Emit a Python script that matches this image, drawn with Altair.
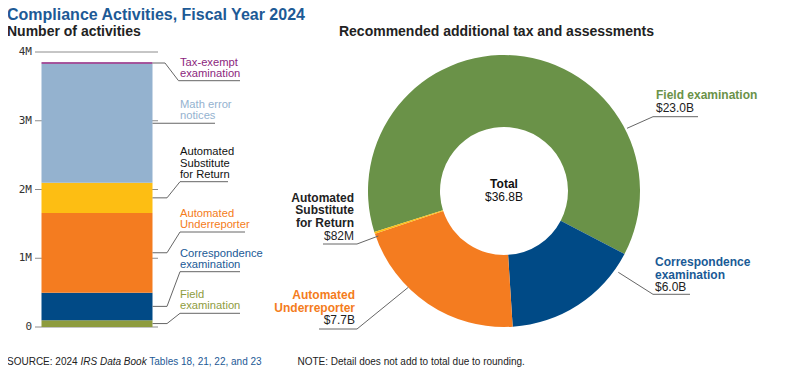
import math
import altair as alt
import pandas as pd

# ---------------- data ----------------
act_categories = ["Field examination", "Correspondence examination", "Automated Underreporter",
                  "Automated Substitute for Return", "Math error notices", "Tax-exempt examination"]
act_counts = [100_000, 400_000, 1_160_000, 437_000, 1_733_000, 20_000]
act_label_lines = [["Field", "examination"], ["Correspondence", "examination"],
                   ["Automated", "Underreporter"], ["Automated", "Substitute", "for Return"],
                   ["Math error", "notices"], ["Tax-exempt", "examination"]]
axis_ticks = [0, 1_000_000, 2_000_000, 3_000_000, 4_000_000]
axis_tick_labels = ["0", "1M", "2M", "3M", "4M"]

tax_categories = ["Field examination", "Correspondence examination",
                  "Automated Underreporter", "Automated Substitute for Return"]
tax_billions = [23.0, 6.0, 7.7, 0.082]
tax_label_lines = [["Field examination"], ["Correspondence", "examination"],
                   ["Automated", "Underreporter"], ["Automated", "Substitute", "for Return"]]

title_text = "Compliance Activities, Fiscal Year 2024"
left_title = "Number of activities"
right_title = "Recommended additional tax and assessments"
source_parts = ["SOURCE: 2024", "IRS Data Book", "Tables 18, 21, 22, and 23"]
note_text = "NOTE: Detail does not add to total due to rounding."

# ---------------- styles ----------------
BAR_COLORS = ["#8E9C3E", "#014A86", "#F47C20", "#FDBE13", "#94B2CF", "#8C1F7D"]
BAR_LABEL_COLORS = ["#8E9C3E", "#1A5A96", "#F47C20", "#111111", "#94B2CF", "#8C1F7D"]
DONUT_COLORS = ["#6A9248", "#004A86", "#F47C20", "#FDBE13"]
DONUT_LABEL_COLORS = ["#6A9248", "#1A5A96", "#F47C20", "#222222"]
BLUE = "#1D5A96"
DARK = "#222222"
LEADER = "#666666"
FONT = "Liberation Sans"

# ---------------- layout (page pixels) ----------------
M = 8
W, H = 792, 360
def v(p):
    return p - M

Y0_PAGE = 327.0
PX_PER_UNIT = 68.75 / 1_000_000
def bar_y_page(val):
    return Y0_PAGE - val * PX_PER_UNIT

BAR_X0, BAR_X1 = 41.5, 152.5
GRID_X0, GRID_X1 = 35, 158
TICK_LABEL_X = 32

LEFT_LINE_Y = [313.3, 271.7, 232.0, 181.7, None, 80.7]
LEFT_STUB_X = [167, 167, 167, 167, None, 165]
LEFT_DIAG_X = [180, 180, 180, 180, None, 178.5]
LEFT_LINE_END = [240, 240, 245, 228, 215, 240]
LEFT_TEXT_X = 180
LEFT_LH = 11.2
LEFT_FS = 11.2

DONUT_CX, DONUT_CY = 504, 191
R_OUT, R_IN = 136, 64
START_DEG = 252.5

RIGHT_TEXT_X = [656, 655, 355, 354]
RIGHT_ALIGN = ["left", "left", "right", "right"]
RIGHT_FIRST_BASELINE = [99, 266, 299, 201.7]
RIGHT_LH = 12.6
RIGHT_LEADERS = [
    [(627, 128.3), (653, 116.7), (698, 116.7)],
    [(618.3, 272.3), (653, 294.3), (690, 294.3)],
    [(408.3, 287.3), (357, 329), (319, 329)],
    [(378.3, 236), (357, 244), (323, 244)],
]

FOOT_Y = 365
FOOT_X = [7, 80.5, 149.3, 297.5]

# ---------------- left panel: stacked bar ----------------
ysc = alt.Scale(domain=[0, 4_000_000], range=[v(bar_y_page(0)), v(bar_y_page(4_000_000))],
                nice=False, zero=False)

df_bar = pd.DataFrame({"category": act_categories, "count": act_counts,
                       "ord": list(range(len(act_categories)))})
df_ticks = pd.DataFrame({"tick": axis_ticks, "label": axis_tick_labels})

grid = alt.Chart(df_ticks).mark_rule(color="#8c8c8c", strokeWidth=1).encode(
    x=alt.value(v(GRID_X0)), x2=alt.value(v(GRID_X1)),
    y=alt.Y("tick:Q", scale=ysc, axis=None),
)
bar = alt.Chart(df_bar).transform_stack(
    stack="count", groupby=[], as_=["y0", "y1"], sort=[alt.SortField("ord", order="ascending")]
).mark_rect().encode(
    x=alt.value(v(BAR_X0)), x2=alt.value(v(BAR_X1)),
    y=alt.Y("y0:Q", scale=ysc, axis=None),
    y2="y1:Q",
    color=alt.Color("category:N", scale=alt.Scale(domain=act_categories, range=BAR_COLORS), legend=None),
)
tick_labels = alt.Chart(df_ticks).mark_text(
    align="right", baseline="middle", font="DejaVu Sans Mono", fontSize=11, color="#333333"
).encode(
    x=alt.value(v(TICK_LABEL_X)),
    y=alt.Y("tick:Q", scale=ysc, axis=None),
    text="label:N",
)
bar_panel = alt.layer(grid, bar, tick_labels)

# ---------------- annotations ----------------
cum = 0
mids = []
for c in act_counts:
    mids.append(bar_y_page(cum + c / 2))
    cum += c

leader_rows = []
left_text_rows = []
for i, cat in enumerate(act_categories):
    mid = mids[i]
    if LEFT_LINE_Y[i] is None:
        pts = [(BAR_X1, mid), (LEFT_LINE_END[i], mid)]
        line_y = mid
    else:
        line_y = LEFT_LINE_Y[i]
        pts = [(BAR_X1, mid), (LEFT_STUB_X[i], mid), (LEFT_DIAG_X[i], line_y), (LEFT_LINE_END[i], line_y)]
    for s, (px, py) in enumerate(pts):
        leader_rows.append({"id": f"L{i}", "seq": s, "x": v(px), "y": v(py)})
    lines = act_label_lines[i]
    last = line_y - 4.0
    for k, t in enumerate(lines):
        left_text_rows.append({"x": v(LEFT_TEXT_X), "y": v(last - (len(lines) - 1 - k) * LEFT_LH),
                               "text": t, "color": BAR_LABEL_COLORS[i]})

for i, pts in enumerate(RIGHT_LEADERS):
    for s, (px, py) in enumerate(pts):
        leader_rows.append({"id": f"R{i}", "seq": s, "x": v(px), "y": v(py)})

def fmt_money(b):
    return f"${b * 1000:.0f}M" if b < 1 else f"${b:.1f}B"

right_bold = {"left": [], "right": []}
right_value = {"left": [], "right": []}
for i, cat in enumerate(tax_categories):
    lines = tax_label_lines[i]
    b0 = RIGHT_FIRST_BASELINE[i]
    for k, t in enumerate(lines):
        right_bold[RIGHT_ALIGN[i]].append({"x": v(RIGHT_TEXT_X[i]), "y": v(b0 + k * RIGHT_LH),
                                           "text": t, "color": DONUT_LABEL_COLORS[i]})
    right_value[RIGHT_ALIGN[i]].append({"x": v(RIGHT_TEXT_X[i]), "y": v(b0 + len(lines) * RIGHT_LH),
                                        "text": fmt_money(tax_billions[i]), "color": DARK})

total = sum(tax_billions)

def text_layer(rows, **mark):
    df = pd.DataFrame(rows)
    return alt.Chart(df).mark_text(baseline="alphabetic", **mark).encode(
        x=alt.X("x:Q", scale=None, axis=None),
        y=alt.Y("y:Q", scale=None, axis=None),
        text="text:N",
        color=alt.Color("color:N", scale=None),
    )

leaders = alt.Chart(pd.DataFrame(leader_rows)).mark_line(color=LEADER, strokeWidth=1).encode(
    x=alt.X("x:Q", scale=None, axis=None),
    y=alt.Y("y:Q", scale=None, axis=None),
    detail="id:N",
    order="seq:Q",
)

layers = [
    leaders,
    text_layer([{"x": v(7), "y": v(20), "text": title_text, "color": BLUE}],
               align="left", font=FONT, fontSize=16, fontWeight="bold"),
    text_layer([{"x": v(7), "y": v(36), "text": left_title, "color": DARK}],
               align="left", font=FONT, fontSize=14, fontWeight="bold"),
    text_layer([{"x": v(496.5), "y": v(36), "text": right_title, "color": DARK}],
               align="center", font=FONT, fontSize=14, fontWeight="bold"),
    text_layer(left_text_rows, align="left", font=FONT, fontSize=LEFT_FS),
    text_layer(right_bold["left"], align="left", font=FONT, fontSize=12, fontWeight="bold"),
    text_layer(right_bold["right"], align="right", font=FONT, fontSize=12, fontWeight="bold"),
    text_layer(right_value["left"], align="left", font=FONT, fontSize=12),
    text_layer(right_value["right"], align="right", font=FONT, fontSize=12),
    text_layer([{"x": v(DONUT_CX), "y": v(188), "text": "Total", "color": "#111111"}],
               align="center", font=FONT, fontSize=12, fontWeight="bold"),
    text_layer([{"x": v(DONUT_CX), "y": v(201), "text": fmt_money(round(total, 1)), "color": "#111111"}],
               align="center", font=FONT, fontSize=12),
    text_layer([{"x": v(FOOT_X[0]), "y": v(FOOT_Y), "text": source_parts[0], "color": DARK},
                {"x": v(FOOT_X[3]), "y": v(FOOT_Y), "text": note_text, "color": DARK}],
               align="left", font=FONT, fontSize=10),
    text_layer([{"x": v(FOOT_X[1]), "y": v(FOOT_Y), "text": source_parts[1], "color": DARK}],
               align="left", font=FONT, fontSize=10, fontStyle="italic"),
    text_layer([{"x": v(FOOT_X[2]), "y": v(FOOT_Y), "text": source_parts[2], "color": BLUE}],
               align="left", font=FONT, fontSize=10),
]

# ---------------- right panel: donut ----------------
a = math.radians(START_DEG)
df_donut = pd.DataFrame({"name": tax_categories, "amount": tax_billions,
                         "ord": list(range(len(tax_categories)))})
donut = alt.Chart(df_donut).mark_arc(innerRadius=R_IN, outerRadius=R_OUT).encode(
    theta=alt.Theta("amount:Q", stack=True, scale=alt.Scale(range=[a, a + 2 * math.pi])),
    color=alt.Color("name:N", scale=alt.Scale(domain=tax_categories, range=DONUT_COLORS), legend=None),
    order=alt.Order("ord:Q"),
    x=alt.value(v(DONUT_CX)),
    y=alt.value(v(DONUT_CY)),
)

chart = alt.layer(bar_panel, donut, *layers).resolve_scale(
    color="independent", y="independent", x="independent"
).properties(
    width=W, height=H, padding=0, autosize=alt.AutoSizeParams(type="none"),
).configure_view(stroke=None)

chart.save("out.html", embed_options={"renderer": "svg", "actions": False})
